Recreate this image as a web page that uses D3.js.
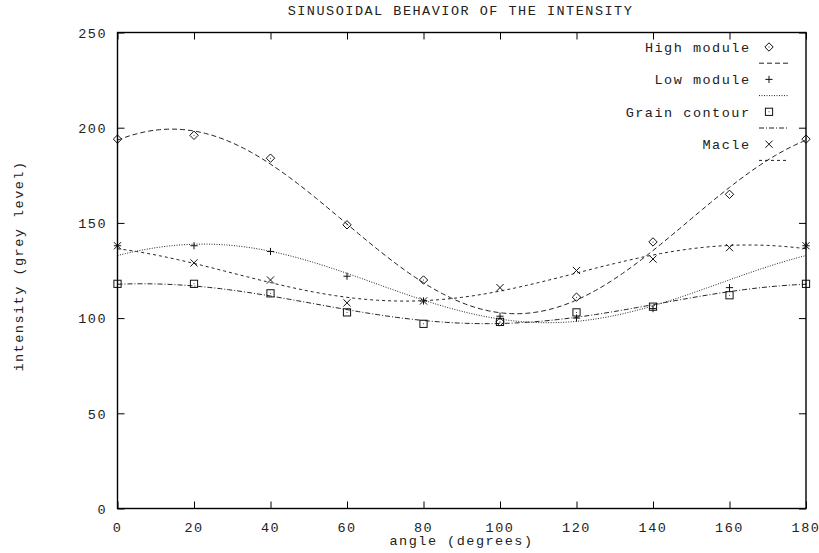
<!DOCTYPE html>
<html>
<head>
<meta charset="utf-8">
<script src="https://cdn.jsdelivr.net/npm/d3@7/dist/d3.min.js"></script>
<style>
  html, body { margin: 0; padding: 0; background: #fff; }
  svg { display: block; }
  text { font-family: "Liberation Mono", "DejaVu Sans Mono", monospace; font-size: 13.5px; letter-spacing: 1.5px; fill: #222; }
</style>
</head>
<body>
<svg id="chart" width="819" height="553"></svg>
<script>
// ---- data ----
const angles = [0, 20, 40, 60, 80, 100, 120, 140, 160, 180];
const highModule   = [194, 196, 184, 149, 120, 98, 111, 140, 165, 194];
const lowModule    = [138, 138, 135, 122, 109, 101, 100, 105, 116, 138];
const grainContour = [118, 118, 113, 103, 97, 98, 103, 106, 112, 118];
const macle        = [138, 129, 120, 108, 109, 116, 125, 131, 137, 138];
const seriesNames  = ["High module", "Low module", "Grain contour", "Macle"];
const xTicks = [0, 20, 40, 60, 80, 100, 120, 140, 160, 180];
const yTicks = [0, 50, 100, 150, 200, 250];
const titleText = "SINUSOIDAL BEHAVIOR OF THE INTENSITY";
const xLabel = "angle (degrees)";
const yLabel = "intensity (grey level)";

// ---- layout ----
const L = 117.5, R = 806, T = 32.5, B = 508.5;
const svg = d3.select("#chart");
const x = d3.scaleLinear().domain([0, 180]).range([L, R]);
const y = d3.scaleLinear().domain([0, 250]).range([B, T]);

// least squares fit  f(t) = a + b cos(2t) + c sin(2t), over one period (180 duplicates 0)
function fitSin(xs, ys) {
  const basis = t => { const r = 2 * t * Math.PI / 180; return [1, Math.cos(r), Math.sin(r)]; };
  const A = [[0,0,0],[0,0,0],[0,0,0]], v = [0,0,0];
  xs.forEach((t, i) => {
    if (t >= 180) return;
    const f = basis(t);
    for (let j = 0; j < 3; j++) { v[j] += f[j] * ys[i]; for (let k = 0; k < 3; k++) A[j][k] += f[j] * f[k]; }
  });
  const M = A.map((row, i) => row.concat([v[i]]));
  for (let i = 0; i < 3; i++) {
    let p = i; for (let r = i + 1; r < 3; r++) if (Math.abs(M[r][i]) > Math.abs(M[p][i])) p = r;
    [M[i], M[p]] = [M[p], M[i]];
    for (let r = 0; r < 3; r++) if (r !== i) {
      const f = M[r][i] / M[i][i];
      for (let k = i; k < 4; k++) M[r][k] -= f * M[i][k];
    }
  }
  const c = M.map((row, i) => row[3] / row[i]);
  return t => { const f = basis(t); return c[0] + c[1] * f[1] + c[2] * f[2]; };
}

const seriesValues = [highModule, lowModule, grainContour, macle];
const dashes = ["5,3", "1,1.5", "5,2,1,2", "3,3"];
const markers = ["diamond", "plus", "square", "cross"];

function drawMarker(g, type) {
  const s = 3.6;
  if (type === "diamond") {
    g.append("path").attr("d", `M0,${-s-0.6}L${s+0.6},0L0,${s+0.6}L${-s-0.6},0Z`);
    g.append("circle").attr("r", 0.5).attr("fill", "#111").attr("stroke", "none");
  } else if (type === "plus") {
    g.append("path").attr("d", `M${-s},0H${s}M0,${-s}V${s}`);
  } else if (type === "square") {
    g.append("rect").attr("x", -s).attr("y", -s).attr("width", 2 * s).attr("height", 2 * s);
    g.append("circle").attr("r", 0.5).attr("fill", "#111").attr("stroke", "none");
  } else {
    g.append("path").attr("d", `M${-s},${-s}L${s},${s}M${-s},${s}L${s},${-s}`);
  }
}

// ---- curves ----
const sample = d3.range(0, 180.001, 1);
const line = d3.line().x(d => x(d[0])).y(d => y(d[1]));
seriesValues.forEach((vals, i) => {
  const f = fitSin(angles, vals);
  svg.append("path")
    .attr("d", line(sample.map(t => [t, f(t)])))
    .attr("fill", "none").attr("stroke", "#222").attr("stroke-width", 1)
    .attr("stroke-dasharray", dashes[i]);
});

// ---- points ----
seriesValues.forEach((vals, i) => {
  vals.forEach((v, j) => {
    const g = svg.append("g")
      .attr("transform", `translate(${x(angles[j])},${y(v)})`)
      .attr("fill", "none").attr("stroke", "#111").attr("stroke-width", 1);
    drawMarker(g, markers[i]);
  });
});

// ---- frame & ticks ----
svg.append("rect").attr("x", L).attr("y", T).attr("width", R - L).attr("height", B - T)
  .attr("fill", "none").attr("stroke", "#000").attr("stroke-width", 1.4);

const tickLen = 7;
const axB = svg.append("g").attr("transform", `translate(0,${B})`)
  .call(d3.axisBottom(x).tickValues(xTicks).tickSizeInner(-tickLen).tickSizeOuter(0).tickPadding(14));
const axT = svg.append("g").attr("transform", `translate(0,${T})`)
  .call(d3.axisTop(x).tickValues(xTicks).tickSizeInner(-tickLen).tickSizeOuter(0).tickFormat(""));
const axL = svg.append("g").attr("transform", `translate(${L},0)`)
  .call(d3.axisLeft(y).tickValues(yTicks).tickSizeInner(-tickLen).tickSizeOuter(0).tickPadding(12));
const axR = svg.append("g").attr("transform", `translate(${R},0)`)
  .call(d3.axisRight(y).tickValues(yTicks).tickSizeInner(-tickLen).tickSizeOuter(0).tickFormat(""));
[axB, axT, axL, axR].forEach(a => {
  a.select(".domain").remove();
  a.selectAll(".tick line").attr("stroke", "#000").attr("stroke-width", 1);
  a.selectAll("text").attr("font-family", null).attr("font-size", null).attr("fill", "#222");
});
axB.selectAll(".tick text").attr("dy", null).attr("y", 23).attr("dx", "-0.5px");
axL.selectAll(".tick text").attr("dy", "0.35em").attr("x", -10.5);

// ---- titles ----
svg.append("text").attr("x", 460.5).attr("y", 15).attr("text-anchor", "middle").text(titleText);
svg.append("text").attr("x", 461.5).attr("y", 545).attr("text-anchor", "middle").text(xLabel);
svg.append("text").attr("transform", "translate(23,266) rotate(-90)").attr("text-anchor", "middle").text(yLabel);

// ---- legend ----
const legY0 = 47, legStep = 16.2;
seriesNames.forEach((name, i) => {
  const yy = legY0 + 2 * i * legStep;
  svg.append("text").attr("x", 750.5).attr("y", yy + 5).attr("text-anchor", "end").text(name);
  const g = svg.append("g").attr("transform", `translate(769,${yy})`)
    .attr("fill", "none").attr("stroke", "#111").attr("stroke-width", 1);
  drawMarker(g, markers[i]);
  const ly = yy + legStep;
  svg.append("line").attr("x1", 759).attr("x2", 789).attr("y1", ly).attr("y2", ly)
    .attr("stroke", "#222").attr("stroke-width", 1).attr("stroke-dasharray", dashes[i]);
});
</script>
</body>
</html>
